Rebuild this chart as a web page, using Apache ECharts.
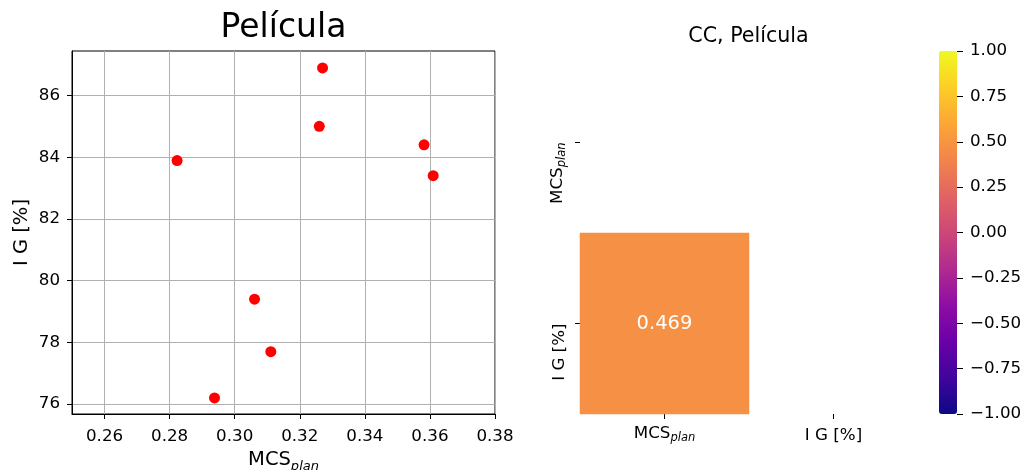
<!DOCTYPE html>
<html>
<head>
<meta charset="utf-8">
<script src="https://cdn.jsdelivr.net/npm/echarts@6/dist/echarts.min.js"></script>
<style>
html,body{margin:0;padding:0;background:#fff;}
#main{width:1021px;height:470px;}
</style>
</head>
<body>
<div id="main"></div>
<script>
// ---- data ----
const mcsPlan = [0.327, 0.326, 0.3582, 0.361, 0.2823, 0.3061, 0.3111, 0.2938];
const igPct = [86.89, 85.0, 84.40, 83.40, 83.89, 79.40, 77.70, 76.20];
const xTickValues = [0.26, 0.28, 0.30, 0.32, 0.34, 0.36, 0.38];
const yTickValues = [76, 78, 80, 82, 84, 86];
const corrVars = ['{n|MCS}{s|plan}', 'I G [%]'];
const corrCells = [[0, 1, 0.469]];
const plasmaStops = ['#0d0887', '#41049d', '#6a00a8', '#8f0da4', '#b12a90', '#cc4778', '#e16462', '#f2844b', '#fca636', '#fcce25', '#f0f921'];

const FONT = 'DejaVu Sans';
const points = mcsPlan.map((x, i) => [x, igPct[i]]);
const fmtMinus = v => (v < 0 ? '\u2212' : '') + Math.abs(v).toFixed(2);

const subRich = (big, small, pad) => ({
  n: {fontFamily: FONT, fontSize: big, color: '#000', verticalAlign: 'bottom', lineHeight: big, padding: [0, 0, pad, 0]},
  s: {fontFamily: FONT, fontSize: small, fontStyle: 'italic', color: '#000', verticalAlign: 'bottom', lineHeight: small}
});

const chart = echarts.init(document.getElementById('main'), null, {renderer: 'canvas'});
chart.setOption({
  backgroundColor: '#fff',
  animation: false,
  title: [
    {text: 'Película', left: 283.5, top: 12, textAlign: 'center', padding: 0,
     textStyle: {fontFamily: FONT, fontSize: 33, fontWeight: 'normal', color: '#000'}},
    {text: 'CC, Película', left: 748.5, top: 26, textAlign: 'center', padding: 0,
     textStyle: {fontFamily: FONT, fontSize: 20.6, fontWeight: 'normal', color: '#000'}}
  ],
  grid: [
    {left: 72, top: 51, width: 423, height: 363, show: true, borderColor: '#000', borderWidth: 1, backgroundColor: 'transparent', outerBoundsMode: 'none'},
    {left: 580, top: 52, width: 338, height: 362, outerBoundsMode: 'none'},
    {left: 957, top: 51, width: 6, height: 363, outerBoundsMode: 'none'}
  ],
  xAxis: [
    {gridIndex: 0, type: 'value', min: 0.25, max: 0.38,
     name: '{n|MCS}{s|plan}', nameLocation: 'middle', nameGap: 38,
     nameTextStyle: {rich: subRich(19.5, 13, 3)},
     axisLine: {show: true, lineStyle: {color: '#000', width: 1}},
     axisTick: {show: true, length: 5, lineStyle: {color: '#000'}, customValues: xTickValues},
     axisLabel: {customValues: xTickValues, formatter: v => v.toFixed(2), fontFamily: FONT, fontSize: 16.7, color: '#000', margin: 14},
     splitLine: {show: true, lineStyle: {color: '#b0b0b0', width: 1}}},
    {gridIndex: 1, type: 'category', data: corrVars,
     axisLine: {show: false},
     axisTick: {show: true, alignWithLabel: true, interval: 0, length: 5, lineStyle: {color: '#000'}},
     axisLabel: {interval: 0, fontFamily: FONT, fontSize: 16.7, color: '#000', margin: 13, rich: subRich(16.7, 11.5, 2)},
     splitLine: {show: false}},
    {gridIndex: 2, type: 'value', show: false, min: 0, max: 1}
  ],
  yAxis: [
    {gridIndex: 0, type: 'value', min: 75.68, max: 87.44,
     name: 'I G [%]', nameLocation: 'middle', nameGap: 40, nameRotate: 90,
     nameTextStyle: {fontFamily: FONT, fontSize: 19.5, color: '#000'},
     axisLine: {show: true, lineStyle: {color: '#000', width: 1}},
     axisTick: {show: true, length: 5, lineStyle: {color: '#000'}, customValues: yTickValues},
     axisLabel: {customValues: yTickValues, formatter: v => String(Math.round(v)), fontFamily: FONT, fontSize: 16.7, color: '#000', margin: 12},
     splitLine: {show: true, lineStyle: {color: '#b0b0b0', width: 1}}},
    {gridIndex: 1, type: 'category', data: corrVars, inverse: true,
     axisLine: {show: false},
     axisTick: {show: true, alignWithLabel: true, interval: 0, length: 5, lineStyle: {color: '#000'}},
     axisLabel: {interval: 0, rotate: 90, align: 'right', fontFamily: FONT, fontSize: 16.7, color: '#000', margin: 12, rich: subRich(16.7, 11.5, 2)},
     splitLine: {show: false}},
    {gridIndex: 2, type: 'value', position: 'right', min: -1, max: 1, interval: 0.25,
     axisLine: {show: false},
     axisTick: {show: false},
     axisLabel: {formatter: fmtMinus, fontFamily: FONT, fontSize: 16.7, color: '#000', margin: 7},
     splitLine: {show: true, lineStyle: {color: '#000', width: 1}}}
  ],
  visualMap: {
    type: 'continuous', seriesIndex: 1, min: -1, max: 1,
    calculable: false, realtime: false,
    left: 939, top: 51, itemWidth: 18, itemHeight: 363, padding: 0,
    text: null, showLabel: false,
    inRange: {color: plasmaStops}
  },
  series: [
    {type: 'scatter', xAxisIndex: 0, yAxisIndex: 0, data: points, symbolSize: 11,
     itemStyle: {color: '#ff0000', opacity: 1}},
    {type: 'heatmap', xAxisIndex: 1, yAxisIndex: 1, data: corrCells,
     label: {show: true, formatter: p => p.value[2].toFixed(3), fontFamily: FONT, fontSize: 19.5, color: '#fff'},
     itemStyle: {borderWidth: 0}}
  ]
});
</script>
</body>
</html>
